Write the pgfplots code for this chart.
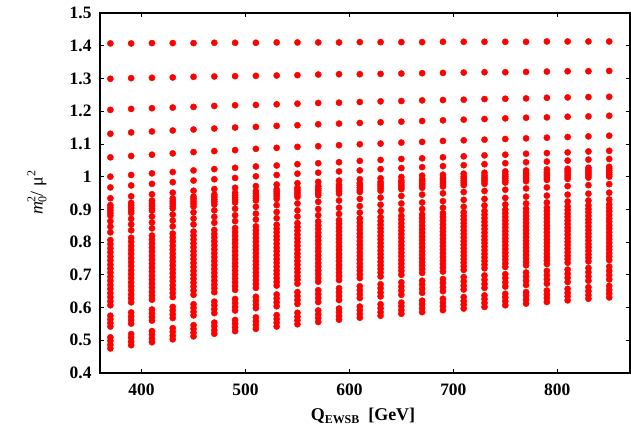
\documentclass[border=0pt]{standalone}
\usepackage{fontspec}
\setmainfont{Liberation Serif}
\usepackage{pgfplots}
\usepackage{pgfplotstable}
\pgfplotsset{compat=1.18}

% upper, sparse rows of every column: one row per scan point, one column per Q
\pgfplotstableread{
q370 q390 q410 q430 q450 q470 q490 q510 q530 q550 q570 q590 q610 q630 q650 q670 q690 q710 q730 q750 q770 q790 q810 q830 q850
1.407 1.407 1.408 1.408 1.408 1.409 1.409 1.409 1.410 1.410 1.410 1.410 1.411 1.411 1.411 1.411 1.412 1.412 1.412 1.412 1.412 1.413 1.413 1.413 1.413
1.299 1.301 1.302 1.303 1.305 1.306 1.307 1.308 1.309 1.310 1.312 1.313 1.313 1.314 1.315 1.316 1.317 1.318 1.319 1.319 1.320 1.321 1.322 1.322 1.323
1.204 1.207 1.209 1.211 1.213 1.216 1.218 1.219 1.221 1.223 1.225 1.226 1.228 1.230 1.231 1.233 1.234 1.235 1.237 1.238 1.239 1.241 1.242 1.243 1.244
1.131 1.135 1.138 1.141 1.144 1.147 1.150 1.152 1.155 1.157 1.160 1.162 1.164 1.166 1.168 1.170 1.172 1.174 1.176 1.178 1.180 1.181 1.183 1.184 1.186
1.059 1.063 1.067 1.071 1.075 1.078 1.081 1.085 1.088 1.091 1.093 1.096 1.099 1.101 1.104 1.106 1.109 1.111 1.113 1.115 1.117 1.119 1.121 1.123 1.125
1.000 1.005 1.010 1.014 1.019 1.023 1.027 1.031 1.034 1.038 1.041 1.044 1.048 1.051 1.054 1.056 1.059 1.062 1.065 1.067 1.070 1.072 1.074 1.077 1.079
0.967 0.973 0.978 0.983 0.988 0.992 0.996 1.001 1.005 1.009 1.012 1.016 1.019 1.023 1.026 1.029 1.032 1.035 1.038 1.041 1.044 1.046 1.049 1.052 1.054
0.934 0.940 0.946 0.951 0.957 0.962 0.966 0.971 0.976 0.980 0.984 0.988 0.992 0.995 0.999 1.003 1.006 1.009 1.012 1.016 1.019 1.022 1.024 1.027 1.030
0.913 0.920 0.927 0.933 0.939 0.945 0.951 0.956 0.961 0.966 0.971 0.975 0.980 0.984 0.988 0.992 0.996 1.000 1.004 1.007 1.011 1.014 1.018 1.021 1.024
0.905 0.912 0.919 0.925 0.932 0.938 0.943 0.949 0.954 0.959 0.964 0.968 0.973 0.977 0.982 0.986 0.990 0.994 0.997 1.001 1.005 1.008 1.012 1.015 1.018
0.897 0.904 0.911 0.918 0.924 0.930 0.936 0.941 0.947 0.952 0.957 0.962 0.966 0.971 0.975 0.979 0.983 0.987 0.991 0.995 0.998 1.002 1.005 1.009 1.012
0.889 0.896 0.903 0.910 0.917 0.923 0.929 0.934 0.940 0.945 0.950 0.955 0.959 0.964 0.968 0.973 0.977 0.981 0.985 0.988 0.992 0.996 0.999 1.003 1.006
0.881 0.889 0.896 0.903 0.909 0.915 0.921 0.927 0.932 0.938 0.943 0.948 0.953 0.957 0.962 0.966 0.970 0.974 0.978 0.982 0.986 0.990 0.993 0.997 1.000
0.864 0.871 0.878 0.884 0.891 0.897 0.902 0.908 0.913 0.918 0.923 0.927 0.932 0.936 0.941 0.945 0.949 0.953 0.956 0.960 0.964 0.967 0.971 0.974 0.977
0.847 0.854 0.860 0.866 0.872 0.877 0.882 0.887 0.892 0.897 0.901 0.905 0.910 0.914 0.918 0.921 0.925 0.929 0.932 0.935 0.939 0.942 0.945 0.948 0.951
0.830 0.836 0.842 0.848 0.854 0.859 0.864 0.869 0.873 0.878 0.882 0.886 0.890 0.894 0.898 0.901 0.905 0.908 0.912 0.915 0.918 0.921 0.924 0.927 0.930
}\topdata

% dense band and the two low groups: one row per Q
\pgfplotstableread{
Q y1 y2 y3 y4 y5 y6 y7 y8 y9 y10 y11 y12 y13 y14 y15 y16 y17 y18 y19 y20 y21 y22 y23 y24 y25
370 0.806 0.794 0.781 0.769 0.756 0.744 0.731 0.719 0.707 0.694 0.682 0.669 0.657 0.644 0.632 0.619 0.607 0.575 0.564 0.553 0.542 0.509 0.498 0.486 0.475
390 0.813 0.801 0.788 0.776 0.764 0.751 0.739 0.727 0.714 0.702 0.690 0.677 0.665 0.653 0.640 0.628 0.616 0.585 0.573 0.562 0.551 0.519 0.508 0.496 0.485
410 0.820 0.807 0.795 0.783 0.771 0.758 0.746 0.734 0.722 0.710 0.697 0.685 0.673 0.661 0.648 0.636 0.624 0.594 0.582 0.571 0.560 0.528 0.517 0.505 0.494
430 0.826 0.814 0.802 0.789 0.777 0.765 0.753 0.741 0.729 0.717 0.705 0.693 0.681 0.668 0.656 0.644 0.632 0.602 0.591 0.579 0.568 0.537 0.526 0.514 0.503
450 0.832 0.820 0.808 0.796 0.784 0.772 0.760 0.748 0.736 0.724 0.712 0.700 0.688 0.676 0.664 0.652 0.639 0.610 0.599 0.587 0.576 0.546 0.535 0.523 0.512
470 0.837 0.825 0.814 0.802 0.790 0.778 0.766 0.754 0.742 0.730 0.718 0.706 0.694 0.682 0.670 0.659 0.647 0.618 0.607 0.595 0.583 0.554 0.543 0.531 0.520
490 0.843 0.831 0.819 0.807 0.796 0.784 0.772 0.760 0.748 0.736 0.725 0.713 0.701 0.689 0.677 0.665 0.654 0.626 0.614 0.602 0.591 0.562 0.551 0.539 0.528
510 0.848 0.836 0.825 0.813 0.801 0.789 0.778 0.766 0.754 0.742 0.731 0.719 0.707 0.696 0.684 0.672 0.660 0.633 0.621 0.609 0.598 0.570 0.558 0.547 0.535
530 0.853 0.841 0.830 0.818 0.807 0.795 0.783 0.772 0.760 0.748 0.737 0.725 0.713 0.702 0.690 0.678 0.667 0.640 0.628 0.616 0.604 0.577 0.565 0.554 0.542
550 0.858 0.846 0.835 0.823 0.812 0.800 0.789 0.777 0.765 0.754 0.742 0.731 0.719 0.708 0.696 0.685 0.673 0.647 0.635 0.623 0.611 0.584 0.572 0.561 0.549
570 0.863 0.851 0.840 0.828 0.817 0.805 0.794 0.782 0.771 0.759 0.748 0.736 0.725 0.713 0.702 0.690 0.679 0.653 0.641 0.629 0.617 0.591 0.579 0.568 0.556
590 0.867 0.856 0.844 0.833 0.821 0.810 0.799 0.787 0.776 0.764 0.753 0.742 0.730 0.719 0.707 0.696 0.684 0.659 0.647 0.635 0.623 0.597 0.586 0.574 0.563
610 0.872 0.860 0.849 0.838 0.826 0.815 0.803 0.792 0.781 0.769 0.758 0.747 0.735 0.724 0.713 0.701 0.690 0.665 0.653 0.641 0.629 0.603 0.592 0.580 0.569
630 0.876 0.864 0.853 0.842 0.831 0.819 0.808 0.797 0.786 0.774 0.763 0.752 0.740 0.729 0.718 0.707 0.695 0.671 0.659 0.646 0.634 0.610 0.598 0.586 0.575
650 0.880 0.869 0.857 0.846 0.835 0.824 0.813 0.801 0.790 0.779 0.768 0.757 0.745 0.734 0.723 0.712 0.700 0.677 0.664 0.652 0.639 0.615 0.604 0.592 0.581
670 0.884 0.873 0.862 0.850 0.839 0.828 0.817 0.806 0.795 0.784 0.772 0.761 0.750 0.739 0.728 0.717 0.706 0.682 0.670 0.657 0.645 0.621 0.610 0.598 0.586
690 0.888 0.877 0.866 0.854 0.843 0.832 0.821 0.810 0.799 0.788 0.777 0.766 0.755 0.744 0.733 0.722 0.710 0.687 0.675 0.662 0.650 0.627 0.615 0.604 0.592
710 0.891 0.880 0.869 0.858 0.847 0.836 0.825 0.814 0.803 0.792 0.781 0.770 0.759 0.748 0.737 0.726 0.715 0.693 0.680 0.667 0.655 0.632 0.620 0.609 0.597
730 0.895 0.884 0.873 0.862 0.851 0.840 0.829 0.818 0.807 0.797 0.786 0.775 0.764 0.753 0.742 0.731 0.720 0.698 0.685 0.672 0.660 0.637 0.626 0.614 0.602
750 0.899 0.888 0.877 0.866 0.855 0.844 0.833 0.822 0.811 0.801 0.790 0.779 0.768 0.757 0.746 0.735 0.724 0.702 0.690 0.677 0.664 0.642 0.631 0.619 0.607
770 0.902 0.891 0.880 0.870 0.859 0.848 0.837 0.826 0.815 0.804 0.794 0.783 0.772 0.761 0.750 0.739 0.729 0.707 0.694 0.682 0.669 0.647 0.636 0.624 0.612
790 0.905 0.895 0.884 0.873 0.862 0.851 0.841 0.830 0.819 0.808 0.798 0.787 0.776 0.765 0.754 0.744 0.733 0.712 0.699 0.686 0.673 0.652 0.640 0.629 0.617
810 0.909 0.898 0.887 0.877 0.866 0.855 0.844 0.834 0.823 0.812 0.801 0.791 0.780 0.769 0.758 0.748 0.737 0.716 0.703 0.691 0.678 0.657 0.645 0.634 0.622
830 0.912 0.901 0.891 0.880 0.869 0.859 0.848 0.837 0.826 0.816 0.805 0.794 0.784 0.773 0.762 0.752 0.741 0.721 0.708 0.695 0.682 0.662 0.650 0.638 0.627
850 0.915 0.904 0.894 0.883 0.872 0.862 0.851 0.841 0.830 0.819 0.809 0.798 0.787 0.777 0.766 0.756 0.745 0.725 0.712 0.699 0.686 0.666 0.654 0.643 0.631
}\densedata

\newcommand{\sm}{\fontsize{12}{12}\selectfont}

\begin{document}
\begin{tikzpicture}
\begin{axis}[
  scale only axis,
  width=530bp, height=360bp,
  xmin=360, xmax=870,
  ymin=0.4, ymax=1.5,
  xtick={400,500,600,700,800},
  ytick={0.4,0.5,0.6,0.7,0.8,0.9,1,1.1,1.2,1.3,1.4,1.5},
  minor tick num=0,
  tick align=inside,
  major tick length=4bp,
  every tick/.style={black, line width=0.8bp},
  axis line style={line width=1.1bp},
  /pgf/number format/assume math mode=true,
  tick label style={font=\fontsize{17.5}{17.5}\selectfont\bfseries},
  xticklabel style={yshift=-7bp},
  yticklabel style={xshift=-5bp},
  xlabel={\bfseries Q\raisebox{-0.45ex}{\sm EWSB}\ \ [GeV]},
  xlabel style={font=\fontsize{18}{18}\selectfont, at={(axis description cs:0.5,0)}, anchor=base, yshift=-47bp, xshift=-2bp},
  ylabel={\textit{m}\makebox[0pt][l]{\raisebox{0.9ex}{\sm 2}}\raisebox{-0.45ex}{\sm 0}/\ μ\raisebox{0.9ex}{\sm 2}},
  ylabel style={font=\fontsize{18}{18}\selectfont, at={(axis description cs:-0.119,0.5)}, anchor=center},
]
\pgfplotsinvokeforeach{370,390,...,850}{
  \addplot[red, only marks, mark=*, mark size=3.1bp, mark options={fill=red, draw=red, line width=0.4bp}]
    table[x expr=#1, y=q#1] {\topdata};
}
\pgfplotsinvokeforeach{1,...,25}{
  \addplot[red, only marks, mark=*, mark size=3.1bp, mark options={fill=red, draw=red, line width=0.4bp}]
    table[x=Q, y=y#1] {\densedata};
}
\end{axis}
\pgfresetboundingbox
\path (-100bp,-55bp) rectangle (531bp,373bp);
\end{tikzpicture}
\end{document}
